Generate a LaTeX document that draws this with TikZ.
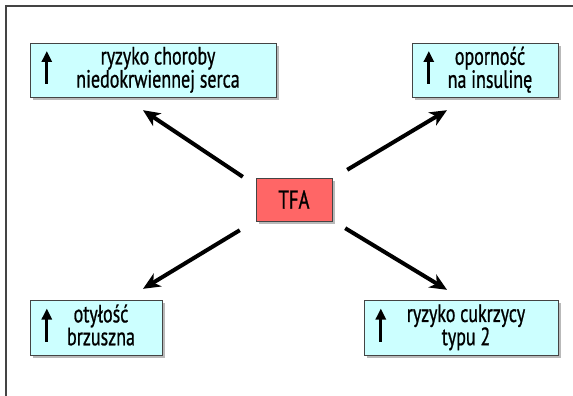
\documentclass[tikz,border=0pt]{standalone}
\usepackage{fontspec}
\setmainfont{PT Sans}[FakeStretch=0.72, FakeBold=0.8]
\usepackage{xcolor}
\usetikzlibrary{positioning,arrows.meta,calc,shadows}

\definecolor{boxcyan}{HTML}{CCFFFF}
\definecolor{tfared}{HTML}{FF6666}
\definecolor{framegray}{HTML}{444444}

\newcommand{\boxtext}[1]{\hspace{10pt}\begin{tabular}{@{}c@{}}#1\end{tabular}}

\begin{document}
\begin{tikzpicture}[
  x=1pt, y=-1pt,
  effect/.style={draw=framegray, thin, fill=boxcyan, inner sep=0pt,
    font=\fontsize{25}{18}\selectfont,
    drop shadow={shadow xshift=3pt, shadow yshift=-3pt, fill=black!55}},
  cause/.style={draw=framegray, thin, fill=tfared, inner sep=0pt,
    font=\fontsize{26}{26}\selectfont,
    drop shadow={shadow xshift=3pt, shadow yshift=-3pt, fill=black!55}},
  big/.style={-{Stealth[length=17pt, width=15pt, inset=5pt]}, line width=4pt},
  uparr/.style={-{Triangle[length=11pt, width=10pt]}, line width=3pt}
]
\useasboundingbox (0,0) rectangle (573,396);
\draw[framegray, line width=1.5pt] (6,396) -- (6,6) -- (573,6);

\node[effect, minimum width=246pt, minimum height=54pt] (heart) at (153,70)
  {\boxtext{ryzyko choroby\\niedokrwiennej serca}};
\node[effect, minimum width=146pt, minimum height=54pt] (insulin) at (485,70)
  {\boxtext{oporność\\na insulinę}};
\node[cause, minimum width=76pt, minimum height=43pt] (tfa) at (294,199.5) {TFA};
\node[effect, minimum width=132pt, minimum height=55pt] (belly) at (96,327.5)
  {\boxtext{otyłość\\brzuszna}};
\node[effect, minimum width=194pt, minimum height=55pt] (diabetes) at (461,327.5)
  {\boxtext{ryzyko cukrzycy\\typu 2}};

% up arrows inside the boxes
\foreach \b in {heart,insulin,belly,diabetes}
  \draw[uparr] ([xshift=17pt,yshift=-14pt]\b.west) -- ([xshift=17pt,yshift=19pt]\b.west);

\draw[big] ([xshift=-13pt,yshift=1pt]tfa.north west) -- ([xshift=-10pt,yshift=-13pt]heart.south);
\draw[big] ([xshift=15pt,yshift=8pt]tfa.north east) -- ([xshift=-38pt,yshift=-13pt]insulin.south);
\draw[big] ([xshift=-16pt,yshift=-9pt]tfa.south west) -- ([xshift=47pt,yshift=11pt]belly.north);
\draw[big] ([xshift=13pt,yshift=-7pt]tfa.south east) -- ([xshift=-14pt,yshift=10pt]diabetes.north);
\end{tikzpicture}
\end{document}
